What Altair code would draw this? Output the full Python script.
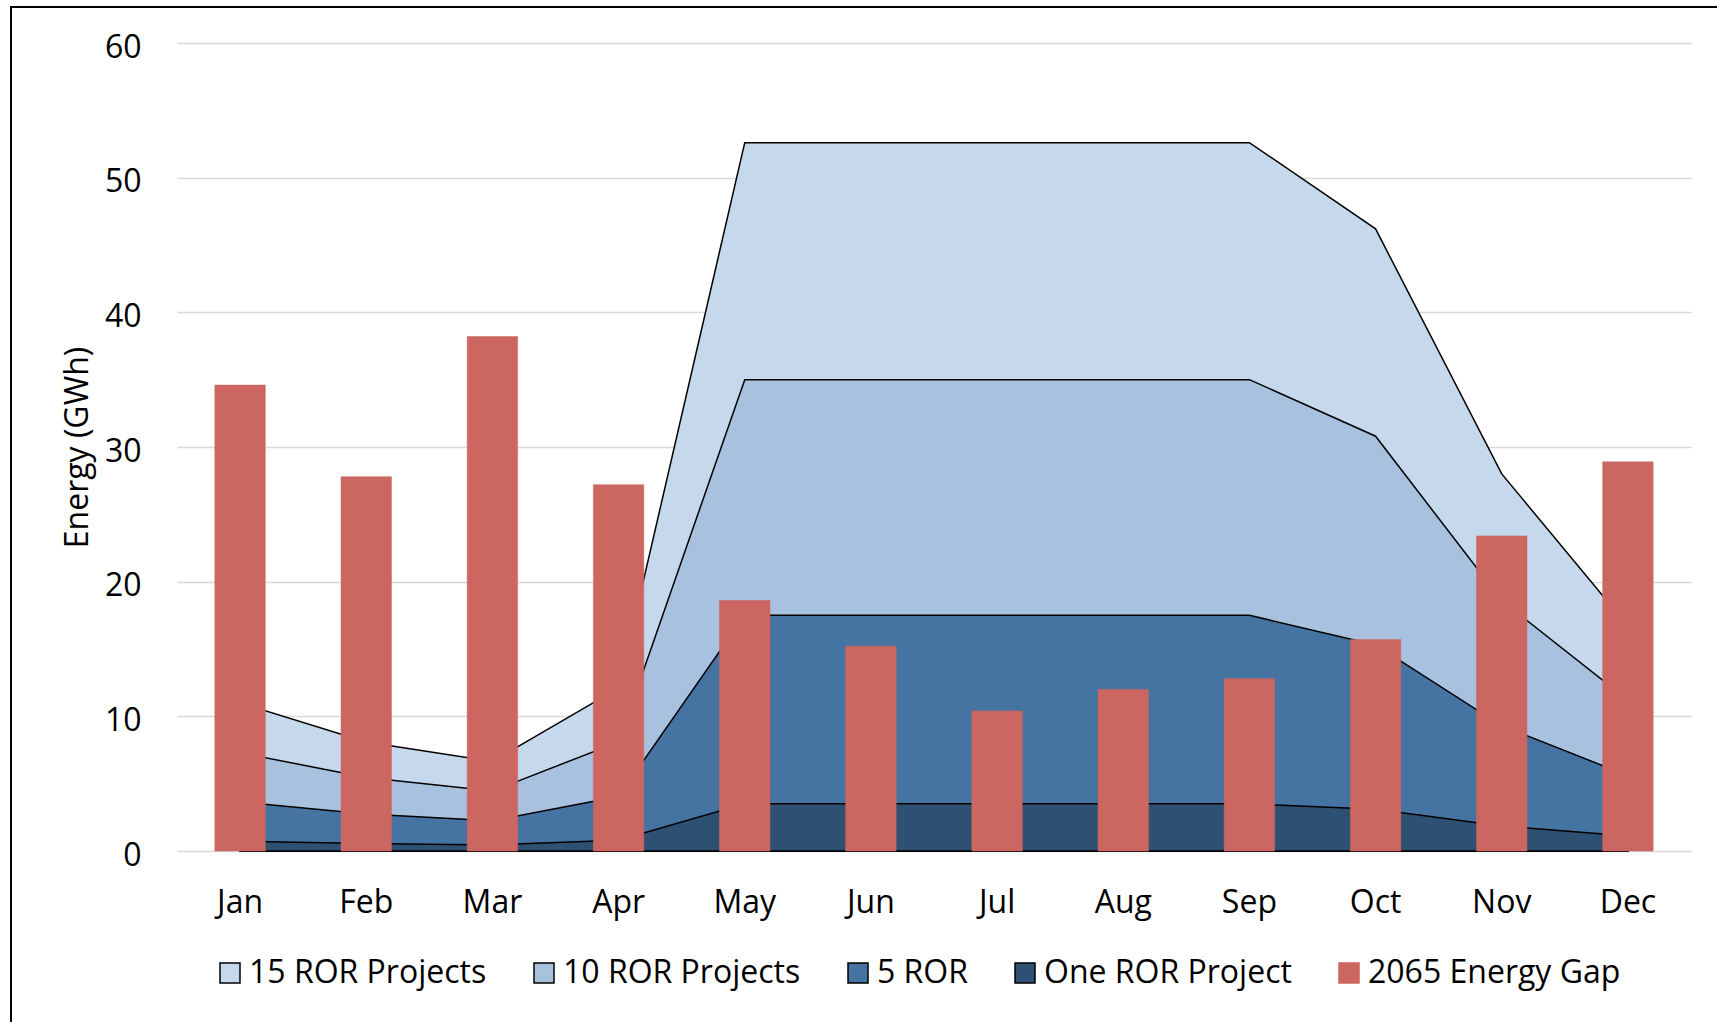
import altair as alt
import pandas as pd

months = ["Jan", "Feb", "Mar", "Apr", "May", "Jun", "Jul", "Aug", "Sep", "Oct", "Nov", "Dec"]

energy_gap_2065 = [34.6, 27.8, 38.2, 27.2, 18.6, 15.2, 10.4, 12.0, 12.8, 15.7, 23.4, 28.9]
one_ror = [0.73, 0.55, 0.45, 0.8, 3.5, 3.5, 3.5, 3.5, 3.5, 3.1, 1.86, 1.12]
five_ror = [3.65, 2.75, 2.25, 4.05, 17.5, 17.5, 17.5, 17.5, 17.5, 15.3, 9.3, 5.6]
ten_ror = [7.3, 5.45, 4.45, 8.1, 35.0, 35.0, 35.0, 35.0, 35.0, 30.8, 18.6, 11.2]
fifteen_ror = [11.0, 8.1, 6.65, 12.1, 52.6, 52.6, 52.6, 52.6, 52.6, 46.2, 28.0, 16.7]

series_names = ["15 ROR Projects", "10 ROR Projects", "5 ROR", "One ROR Project", "2065 Energy Gap"]
series_colors = ["#c5d8ec", "#a7c1df", "#4573a2", "#2e5173", "#cc6660"]
series_strokes = ["#000000", "#000000", "#000000", "#000000", "#cc6660"]
y_ticks = [0, 10, 20, 30, 40, 50, 60]

FONT = "Open Sans"
W, H = 1514, 808
PAD_L, PAD_T = 177, 43

color_scale = alt.Scale(domain=series_names, range=series_colors)
stroke_scale = alt.Scale(domain=series_names, range=series_strokes)
legend = alt.Legend(
    title=None, orient="none", direction="horizontal", legendX=37, legendY=914,
    symbolType="square", symbolSize=400, symbolStrokeWidth=1.5,
    labelFont=FONT, labelFontSize=32, labelColor="black", labelOffset=3,
    labelLimit=0, columnPadding=41, padding=0,
)

x_axis = alt.Axis(
    labelFont=FONT, labelFontSize=32, labelColor="black", labelAngle=0,
    labelPadding=36, ticks=False, domain=False, grid=False, title=None,
)
x_scale = alt.Scale(type="band", paddingInner=0, paddingOuter=0)
y_axis = alt.Axis(
    values=y_ticks, grid=True, gridColor="#d9d9d9", gridWidth=1.5,
    domain=False, ticks=False, labelFont=FONT, labelFontSize=32,
    labelColor="black", labelPadding=36, labelOffset=4,
    title="Energy (GWh)", titleFont=FONT, titleFontSize=32,
    titleFontWeight="normal", titleColor="black", titleX=-100, titleY=404,
    titleAlign="center", titleBaseline="middle", titleAngle=-90,
)
y_scale = alt.Scale(domain=[0, 60], nice=False)

layers = []

border = alt.Chart(pd.DataFrame({"a": [0]})).mark_rect(
    fillOpacity=0, stroke="black", strokeWidth=2
).encode(
    x=alt.value(11 - PAD_L), x2=alt.value(1717 - PAD_L + 20),
    y=alt.value(7 - PAD_T), y2=alt.value(1022 - PAD_T + 20),
)
layers.append(border)

area_series = [
    ("15 ROR Projects", fifteen_ror),
    ("10 ROR Projects", ten_ror),
    ("5 ROR", five_ror),
    ("One ROR Project", one_ror),
]
for name, vals in area_series:
    df = pd.DataFrame({"month": months, "value": vals, "series": name})
    layers.append(
        alt.Chart(df).mark_area(strokeWidth=1.5, opacity=1).encode(
            x=alt.X("month:N", sort=months, scale=x_scale, axis=x_axis, bandPosition=0.5),
            y=alt.Y("value:Q", scale=y_scale, axis=y_axis, stack=None),
            color=alt.Color("series:N", scale=color_scale, legend=legend),
            stroke=alt.Stroke("series:N", scale=stroke_scale, legend=legend),
        )
    )

df_gap = pd.DataFrame({"month": months, "value": energy_gap_2065, "series": "2065 Energy Gap"})
bars = alt.Chart(df_gap).mark_bar(width=alt.RelativeBandSize(0.4), strokeWidth=0.5).encode(
    x=alt.X("month:N", sort=months, scale=x_scale, axis=x_axis),
    y=alt.Y("value:Q", scale=y_scale, axis=y_axis),
    color=alt.Color("series:N", scale=color_scale, legend=legend),
    stroke=alt.Stroke("series:N", scale=stroke_scale, legend=legend),
)
layers.append(bars)

chart = alt.layer(*layers).properties(
    width=W, height=H,
    autosize=alt.AutoSizeParams(type="none"),
    padding={"left": PAD_L, "top": PAD_T, "right": 1717 - PAD_L - W, "bottom": 1022 - PAD_T - H},
    background="white",
).configure_view(strokeWidth=0)

chart.save("out.html", embed_options={"renderer": "svg", "actions": False})
